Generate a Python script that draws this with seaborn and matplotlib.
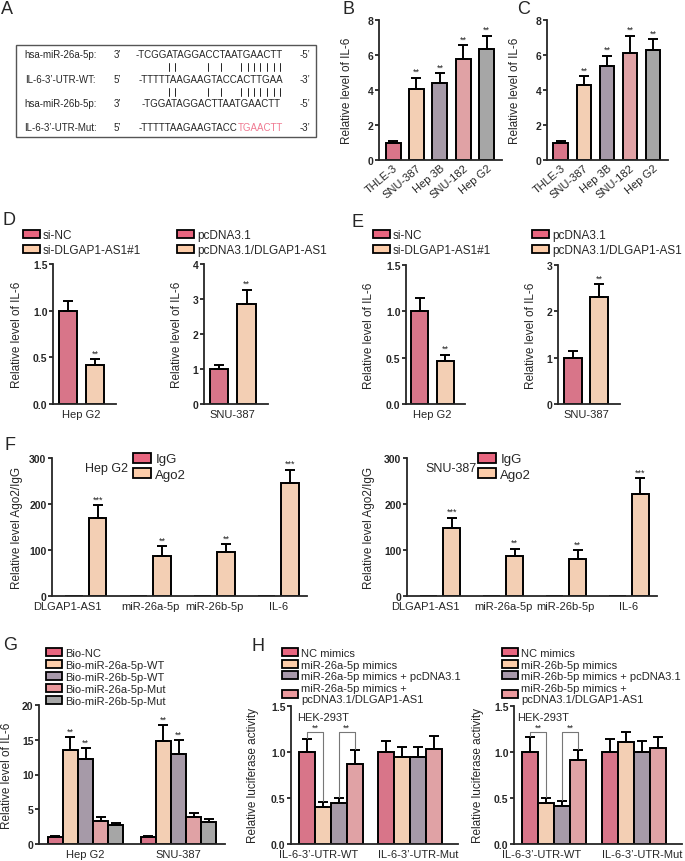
import numpy as np
import pandas as pd
import seaborn as sns
import matplotlib.pyplot as plt
from matplotlib.patches import Patch, Rectangle
from matplotlib.font_manager import FontProperties
from matplotlib.transforms import ScaledTranslation

sns.set_style('ticks')
plt.rcParams['font.family'] = ['Liberation Sans', 'DejaVu Sans']

W, H = 685, 862

# colours
PINK = '#E8657F'
PEACH = '#FDCDAA'
MAUVE = '#A898AA'
SALMON = '#EA989C'
GREY = '#A6A6A6'

# ---- data ----
cell_lines = ['THLE-3', 'SNU-387', 'Hep 3B', 'SNU-182', 'Hep G2']
b_vals = [1.0, 4.05, 4.4, 5.8, 6.35]
b_errs = [0.1, 0.65, 0.55, 0.75, 0.75]
c_vals = [1.0, 4.3, 5.35, 6.1, 6.3]
c_errs = [0.1, 0.5, 0.6, 1.0, 0.6]

kd_groups = ['si-NC', 'si-DLGAP1-AS1#1']
oe_groups = ['pcDNA3.1', 'pcDNA3.1/DLGAP1-AS1']
d_kd_vals, d_kd_errs = [1.0, 0.42], [0.1, 0.06]
d_oe_vals, d_oe_errs = [1.0, 2.85], [0.12, 0.42]
e_kd_vals, e_kd_errs = [1.0, 0.46], [0.14, 0.07]
e_oe_vals, e_oe_errs = [1.0, 2.3], [0.14, 0.28]

rip_targets = ['DLGAP1-AS1', 'miR-26a-5p', 'miR-26b-5p', 'IL-6']
rip_groups = ['IgG', 'Ago2']
f_hep_igg = [1, 1, 1, 1]
f_hep_ago2 = [170, 88, 95, 245]
f_hep_ago2_err = [28, 20, 18, 30]
f_snu_igg = [1, 1, 1, 1]
f_snu_ago2 = [148, 87, 80, 222]
f_snu_ago2_err = [22, 16, 19, 34]
f_sig = ['***', '**', '**', '***']

probes = ['Bio-NC', 'Bio-miR-26a-5p-WT', 'Bio-miR-26b-5p-WT',
          'Bio-miR-26a-5p-Mut', 'Bio-miR-26b-5p-Mut']
g_cells = ['Hep G2', 'SNU-387']
g_hep = [1.0, 13.5, 12.2, 3.3, 2.75]
g_hep_err = [0.15, 1.9, 1.6, 0.55, 0.25]
g_snu = [1.0, 14.8, 12.9, 3.85, 3.15]
g_snu_err = [0.15, 2.3, 2.0, 0.6, 0.4]

reporters = ['IL-6-3\u2019-UTR-WT', 'IL-6-3\u2019-UTR-Mut']
h26a_groups = ['NC mimics', 'miR-26a-5p mimics', 'miR-26a-5p mimics + pcDNA3.1',
               'miR-26a-5p mimics +\npcDNA3.1/DLGAP1-AS1']
h26b_groups = ['NC mimics', 'miR-26b-5p mimics', 'miR-26b-5p mimics + pcDNA3.1',
               'miR-26b-5p mimics +\npcDNA3.1/DLGAP1-AS1']
h26a_wt = [1.0, 0.4, 0.45, 0.87]
h26a_wt_err = [0.14, 0.06, 0.05, 0.15]
h26a_mut = [1.0, 0.95, 0.95, 1.03]
h26a_mut_err = [0.12, 0.1, 0.1, 0.14]
h26b_wt = [1.0, 0.45, 0.41, 0.91]
h26b_wt_err = [0.16, 0.05, 0.06, 0.11]
h26b_mut = [1.0, 1.11, 1.0, 1.04]
h26b_mut_err = [0.14, 0.11, 0.12, 0.12]

fig = plt.figure(figsize=(W / 100, H / 100), dpi=100)

# full-figure overlay in pixel coordinates for text
ax0 = fig.add_axes([0, 0, 1, 1])
ax0.set_xlim(0, W)
ax0.set_ylim(H, 0)
ax0.axis('off')


def px_axes(l, t, r, b):
    a = fig.add_axes([l / W, 1 - b / H, (r - l) / W, (b - t) / H])
    a.patch.set_alpha(0)
    return a


def bar_panel(ax, cats, groups, vals, errs, colors, width, gap=0, sig=None,
              ylim=None, yticks=None, yticklabels=None, ylabel='Relative level of IL-6',
              xlim=None, rot=0, sigsize=6.5, xshift=None):
    # vals/errs: list per category of list per group (groups=None -> one bar per category)
    rows = []
    if groups is None:
        for i, c in enumerate(cats):
            rows.append({'cat': c, 'grp': c, 'val': vals[i]})
        hue_order = cats
        flat_err = list(errs)
        flat_sig = list(sig) if sig else [''] * len(cats)
    else:
        for i, c in enumerate(cats):
            for j, g in enumerate(groups):
                rows.append({'cat': c, 'grp': g, 'val': vals[i][j]})
        hue_order = groups
        flat_err = [e for row in errs for e in row]
        flat_sig = [s for row in sig for s in row] if sig else [''] * len(rows)
    df = pd.DataFrame(rows)
    sns.barplot(data=df, x='cat', y='val', hue='grp', order=cats, hue_order=hue_order,
                palette=colors, width=width, gap=gap, errorbar=None,
                edgecolor='black', linewidth=1.4, legend=False, ax=ax)
    patches = sorted(ax.patches, key=lambda p: p.get_x())
    for p, e, s in zip(patches, flat_err, flat_sig):
        xc = p.get_x() + p.get_width() / 2
        h = p.get_height()
        if e > 0:
            ax.errorbar(xc, h, yerr=[[0], [e]], fmt='none', ecolor='black',
                        elinewidth=1.4, capsize=3.5, capthick=1.4)
        if s:
            ax.text(xc, h + e + 0.012 * ylim[1], s, ha='center', va='bottom',
                    fontsize=sigsize, color='#222222')
    ax.set_ylim(*ylim)
    ax.set_yticks(yticks)
    if yticklabels:
        ax.set_yticklabels(yticklabels)
    if xlim:
        ax.set_xlim(*xlim)
    ax.set_xlabel('')
    ax.set_ylabel(ylabel, fontsize=8.5)
    sns.despine(ax=ax)
    for sp in ['left', 'bottom']:
        ax.spines[sp].set_linewidth(1.3)
    ax.tick_params(axis='y', length=3, width=1.3, labelsize=7.5, pad=1)
    ax.tick_params(axis='x', length=0, labelsize=8, pad=3.5)
    for t in ax.get_yticklabels():
        t.set_fontweight('bold')
    if rot:
        for t in ax.get_xticklabels():
            t.set_rotation(rot)
            t.set_ha('right')
            t.set_rotation_mode('anchor')
    if xshift:
        for t, dx in zip(ax.get_xticklabels(), xshift):
            t.set_transform(t.get_transform() + ScaledTranslation(dx / 100, 0, fig.dpi_scale_trans))


def set_ylabel_px(ax, xpix, l, r):
    ax.yaxis.set_label_coords((xpix - l) / (r - l), 0.5)


def legend_px(handles_colors, labels, x, y, size=8.5, spacing=0.25):
    handles = [Patch(facecolor=c, edgecolor='black', linewidth=1.3) for c in handles_colors]
    fig.legend(handles, labels, loc='upper left', bbox_to_anchor=(x / W, 1 - y / H),
               frameon=False, fontsize=size, borderpad=0, borderaxespad=0,
               handlelength=1.4, handleheight=0.75, handletextpad=0.3,
               labelspacing=spacing)


five = [PINK, PEACH, MAUVE, SALMON, GREY]

# ---- B and C ----
for (l, r), vals, errs, ylx in [((379, 502), b_vals, b_errs, 353), ((547, 668), c_vals, c_errs, 521)]:
    ax = px_axes(l, 21, r, 161)
    bar_panel(ax, cell_lines, None, vals, errs, five, 0.64,
              sig=['', '**', '**', '**', '**'], ylim=(0, 8), yticks=[0, 2, 4, 6, 8],
              xlim=(-0.6, 4.65), rot=40)
    ax.tick_params(axis='x', pad=2)
    set_ylabel_px(ax, ylx, l, r)

# ---- D and E ----
half = ['0.0', '0.5', '1.0', '1.5']
de = [
    ((53, 265, 116, 405), 'Hep G2', kd_groups, d_kd_vals, d_kd_errs, (0, 1.5), [0, 0.5, 1.0, 1.5], half, 23),
    ((204, 265, 268, 405), 'SNU-387', oe_groups, d_oe_vals, d_oe_errs, (0, 4), [0, 1, 2, 3, 4], None, 183),
    ((406, 266, 465, 405), 'Hep G2', kd_groups, e_kd_vals, e_kd_errs, (0, 1.5), [0, 0.5, 1.0, 1.5], half, 375),
    ((558, 266, 620, 405), 'SNU-387', oe_groups, e_oe_vals, e_oe_errs, (0, 3), [0, 1, 2, 3], None, 537),
]
for (l, t, r, b), cell, grps, vals, errs, ylim, yt, ytl, ylx in de:
    ax = px_axes(l, t, r, b)
    bar_panel(ax, [cell], grps, [vals], [errs], [PINK, PEACH], 0.86, gap=0.33,
              sig=[['', '**']], ylim=ylim, yticks=yt, yticklabels=ytl, xlim=(-0.45, 0.55))
    set_ylabel_px(ax, ylx, l, r)

legend_px([PINK, PEACH], kd_groups, 23, 230)
legend_px([PINK, PEACH], oe_groups, 177, 230)
legend_px([PINK, PEACH], kd_groups, 373, 230)
legend_px([PINK, PEACH], oe_groups, 532, 230)

# ---- F ----
for (l, r), igg, ago, aerr, cell, ylx, tx, lx, sh in [
        ((52, 307), f_hep_igg, f_hep_ago2, f_hep_ago2_err, 'Hep G2', 23, 85, 133, [-19, 0, 0, 0]),
        ((407, 657), f_snu_igg, f_snu_ago2, f_snu_ago2_err, 'SNU-387', 375, 425, 478, [-15, 0, 0, 0])]:
    ax = px_axes(l, 459, r, 597)
    bar_panel(ax, rip_targets, rip_groups, [[a, b] for a, b in zip(igg, ago)],
              [[0, e] for e in aerr], [PINK, PEACH], 0.74, gap=0.27,
              sig=[['', s] for s in f_sig], ylim=(0, 300), yticks=[0, 100, 200, 300],
              ylabel='Relative level Ago2/IgG', xlim=(-0.53, 3.45), xshift=sh)
    set_ylabel_px(ax, ylx, l, r)
    ax0.text(tx, 469, cell, fontsize=9, va='center', ha='left')
    legend_px([PINK, PEACH], rip_groups, lx, 454, size=9.5, spacing=0.2)

# ---- G ----
ax = px_axes(39, 706, 225, 845)
bar_panel(ax, g_cells, probes, [g_hep, g_snu], [g_hep_err, g_snu_err], five, 0.81,
          sig=[['', '**', '**', '', '']] * 2, ylim=(0, 20), yticks=[0, 5, 10, 15, 20],
          xlim=(-0.5, 1.5))
set_ylabel_px(ax, 13, 39, 225)
legend_px(five, probes, 46, 649, size=8, spacing=0.18)

# ---- H ----
four = [PINK, PEACH, MAUVE, SALMON]
for (l, r), grps, wt, wte, mut, mute, ylx, lx in [
        ((291, 458), h26a_groups, h26a_wt, h26a_wt_err, h26a_mut, h26a_mut_err, 259, 282),
        ((514, 682), h26b_groups, h26b_wt, h26b_wt_err, h26b_mut, h26b_mut_err, 484, 502)]:
    ax = px_axes(l, 707, r, 845)
    bar_panel(ax, reporters, grps, [wt, mut], [wte, mute], four, 0.8,
              ylim=(0, 1.5), yticks=[0, 0.5, 1.0, 1.5], yticklabels=half, xlim=(-0.5, 1.6),
              ylabel='Relative luciferase activity', xshift=[-12, 8])
    pts = sorted(ax.patches, key=lambda p: p.get_x())[:4]
    xs = [p.get_x() + p.get_width() / 2 for p in pts]
    tops = [v + e for v, e in zip(wt, wte)]
    yb = 1.22
    for a, b in [(0, 1), (2, 3)]:
        ax.plot([xs[a], xs[a], xs[b], xs[b]], [tops[a] + 0.01, yb, yb, tops[b] + 0.01],
                color='#777777', lw=0.8, clip_on=False)
        ax.text((xs[a] + xs[b]) / 2, yb + 0.005, '**', ha='center', va='bottom',
                fontsize=6.5, color='#222222')
    set_ylabel_px(ax, ylx, l, r)
    legend_px(four, grps, lx, 649, size=8, spacing=0.14)
    ax0.text(lx + 15, 718, 'HEK-293T', fontsize=8, va='center', ha='left')

# ---- A: sequence alignment ----
ax0.add_patch(Rectangle((16, 46), 300, 92, fill=False, edgecolor='#555555', lw=1))
fp = FontProperties(family='Liberation Sans', size=7)
renderer = fig.canvas.get_renderer()


def twidth(s):
    w, h, d = renderer.get_text_width_height_descent(s, fp, ismath=False)
    return w


row_labels = ['hsa-miR-26a-5p:', 'IL-6-3\u2019-UTR-WT:', 'hsa-miR-26b-5p:', 'IL-6-3\u2019-UTR-Mut:']
row_ends = ['3\u2019', '5\u2019', '3\u2019', '5\u2019']
row_tails = ['-5\u2019', '-3\u2019', '-5\u2019', '-3\u2019']
seq_26a = '-TCGGATAGGACCTAATGAACTT'
seq_wt = '-TTTTTAAGAAGTACCACTTGAA'
seq_26b = '-TGGATAGGACTTAATGAACTT'
seq_mut_keep = '-TTTTTAAGAAGTACC'
seq_mut_change = 'TGAACTT'
pair_idx = [5, 6, 11, 13, 16, 17, 18, 19, 20, 21, 22]

row_y = [55, 80, 104, 128]
for i in range(4):
    ax0.text(60.5, row_y[i], row_labels[i], fontproperties=fp, ha='center', va='center')
    ax0.text(117, row_y[i], row_ends[i], fontproperties=fp, ha='center', va='center')
    ax0.text(300, row_y[i], row_tails[i], fontproperties=fp, ha='left', va='center')
for s, x, y in [(seq_26a, 136, 55), (seq_wt, 139, 80), (seq_26b, 142, 104)]:
    ax0.text(x, y, s, fontproperties=fp, ha='left', va='center')
ax0.text(139, 128, seq_mut_keep, fontproperties=fp, ha='left', va='center')
ax0.text(139 + twidth(seq_mut_keep), 128, seq_mut_change, fontproperties=fp,
         ha='left', va='center', color='#F07A92')
for k in pair_idx:
    xc = 139 + twidth(seq_wt[:k]) + twidth(seq_wt[k]) / 2
    for yb in [68, 93]:
        ax0.plot([xc, xc], [yb - 4, yb + 4], color='#222222', lw=0.7)

# ---- panel letters ----
for letter, x, y in [('A', 1, 9), ('B', 343, 10), ('C', 517, 10), ('D', 2, 221),
                     ('E', 352, 223), ('F', 5, 446), ('G', 3, 646), ('H', 252, 647)]:
    ax0.text(x, y, letter, fontsize=13, ha='left', va='center')

fig.savefig('out.png', dpi=100)
